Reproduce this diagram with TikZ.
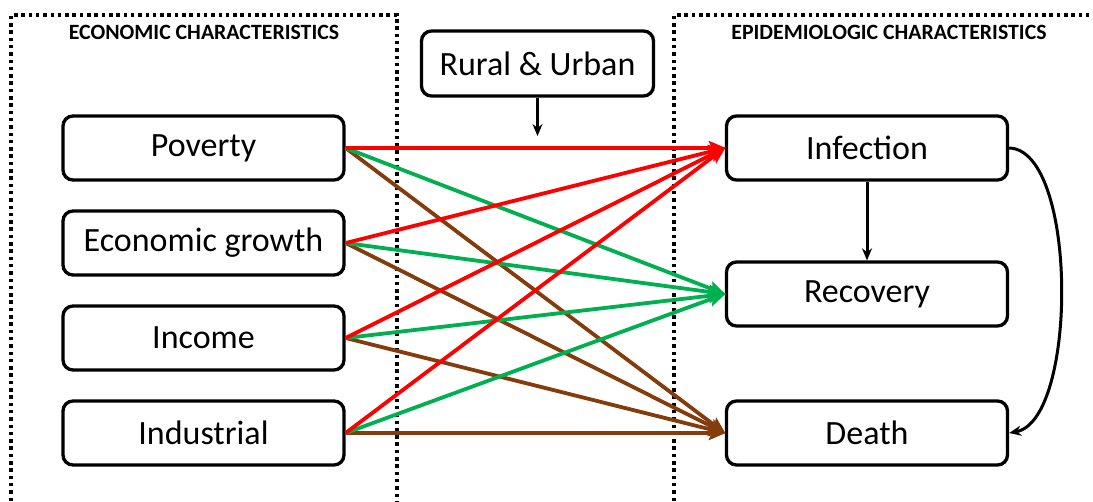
\documentclass[tikz,border=0pt]{standalone}
\usepackage{fontspec}
\setmainfont{Carlito}
\usetikzlibrary{arrows.meta}
\definecolor{cred}{RGB}{255,0,0}
\definecolor{cgreen}{RGB}{0,176,80}
\definecolor{cbrown}{RGB}{132,60,12}
\begin{document}
\begin{tikzpicture}[x=1pt,y=-1pt,
  fbox/.style={draw=black,line width=3.3pt,rounded corners=10pt,minimum width=281pt,minimum height=64pt,inner sep=0pt,font=\fontsize{34}{40}\selectfont},
  dotline/.style={line width=3.5pt,dash pattern=on 3.5pt off 3.8pt},
  hdr/.style={font=\fontsize{21.8}{26}\selectfont\bfseries},
  link/.style={line width=3.8pt,-{Stealth[length=17pt,width=14pt,inset=3pt]},shorten >=-1pt},
  blk/.style={line width=3pt,-{Stealth[length=12pt,width=10pt]}}]
\useasboundingbox (0,0) rectangle (1093,501);
% dotted containers
\draw[dotline] (11,501) -- (11,15) -- (397,15) -- (397,501);
\draw[dotline] (674,501) -- (674,15) -- (1095,15);
\node[hdr] (h1) at (204,32) {ECONOMIC CHARACTERISTICS};
\node[hdr] (h2) at (889,32) {EPIDEMIOLOGIC CHARACTERISTICS};
% nodes
\node[fbox] (pov) at (203.5,148) {Poverty};
\node[fbox] (eco) at (203.5,243) {Economic growth};
\node[fbox] (inc) at (203.5,338) {Income};
\node[fbox] (ind) at (203.5,433) {Industrial};
\node[fbox] (inf) at (867,148) {Infection};
\node[fbox] (rec) at (867,294) {Recovery};
\node[fbox] (dea) at (867,433) {Death};
\node[fbox,minimum width=232pt,minimum height=65pt] (ru) at (537.5,63.5) {Rural \& Urban};
\coordinate (ruend) at (537.5,136);
% links
\foreach \s in {pov,eco,inc,ind}{
  \draw[link,cbrown] (\s.east) -- (dea.west);
  \draw[link,cgreen] (\s.east) -- (rec.west);
  \draw[link,cred] (\s.east) -- (inf.west);
}
\draw[blk] (ru.south) -- (ruend);
\draw[blk] (inf.south) -- (rec.north);
\draw[blk] (inf.east) .. controls (1078,150) and (1078,420) .. (dea.east);
\end{tikzpicture}
\end{document}
